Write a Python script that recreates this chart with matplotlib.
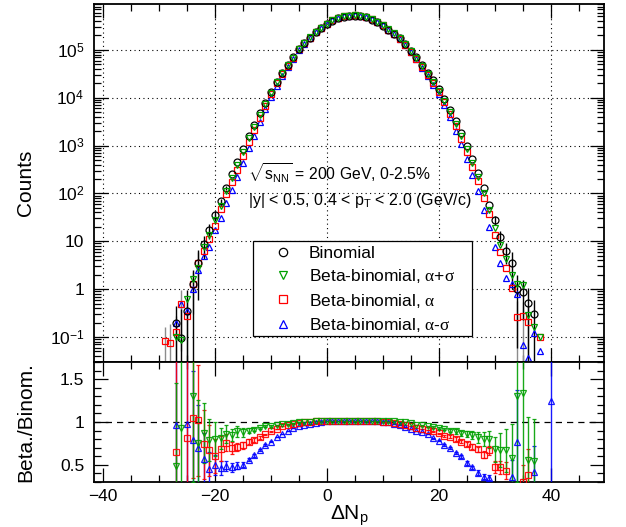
import numpy as np
import matplotlib
matplotlib.use('Agg')
import matplotlib.pyplot as plt
from matplotlib.ticker import MultipleLocator, FixedLocator, FuncFormatter, LogLocator, NullFormatter
from matplotlib.lines import Line2D
from matplotlib.patches import Rectangle

nan = np.nan

# Delta N_p values (-29 ... 40)
dnp = list(range(-29, 41))

# ---- top panel: counts ----
binomial = [nan, nan, 0.20, 0.093, 0.35, 1.25, 3.6, 8.7, 17, 35,
            68, 128, 250, 445, 845, 1570, 2630, 4700, 7900, 13500,
            21800, 33600, 48500, 70000, 103000, 138000, 181000, 235000, 290000, 345000,
            408000, 460000, 497000, 515000, 522000, 515000, 480000, 430000, 378000, 323000,
            266000, 219000, 173000, 133000, 97000, 70000, 48000, 33500, 23000, 15200,
            9500, 5600, 3200, 1800, 1000, 512, 272, 128, 57, 28,
            12.5, 6.4, 3.5, 1.0, 0.89, 0.52, 0.30, nan, nan, nan]
binomial_err = [0, 0, 0.25, 0.3, 0.6, 1.3, 3.0, 4.5, 6, 8,
                10, 12, 0, 0, 0, 0, 0, 0, 0, 0,
                0, 0, 0, 0, 0, 0, 0, 0, 0, 0,
                0, 0, 0, 0, 0, 0, 0, 0, 0, 0,
                0, 0, 0, 0, 0, 0, 0, 0, 0, 0,
                0, 0, 0, 0, 0, 0, 0, 0, 0, 6,
                4, 3, 2.5, 0.94, 0.66, 0.55, 0.3, 0, 0, 0]
beta_ps = [nan, nan, 0.10, 0.087, 0.63, 1.65, 2.8, 7.6, 13.4, 28,
           55, 110, 212, 396, 744, 1413, 2393, 4371, 7505, 12825,
           20928, 32928, 47530, 69300, 103000, 138000, 182000, 237000, 293000, 349000,
           412000, 465000, 502000, 520000, 527000, 520000, 485000, 434000, 382000, 326000,
           268700, 221200, 173000, 133000, 96000, 67900, 46080, 31825, 21735, 14136,
           8740, 5040, 2848, 1566, 860, 435, 223, 102, 46, 19,
           8.4, 4.3, 2.0, 1.3, 1.2, 0.29, 0.16, 0.10, nan, nan]
beta_a = [0.083, 0.076, 0.13, 0.50, 0.27, 1.3, 3.6, 6.4, 11.4, 21,
          47, 97, 175, 316, 617, 1209, 2078, 3854, 6755, 12015,
          20056, 31920, 47045, 68600, 102000, 138000, 181000, 237000, 293000, 349000,
          412000, 465000, 502000, 520000, 527000, 520000, 485000, 434000, 382000, 326000,
          264700, 216800, 169500, 127700, 92150, 65100, 44160, 30490, 20470, 13220,
          7980, 4650, 2560, 1386, 740, 364, 185, 79, 38, 13.4,
          5.9, 2.75, 1.08, 0.26, 0.28, 0.21, nan, 0.10, nan, nan]
beta_a_err = [0.08, 0.11, 0.15, 0.45, 0.3, 1.0, 2.5, 0, 0, 0,
              0, 0, 0, 0, 0, 0, 0, 0, 0, 0,
              0, 0, 0, 0, 0, 0, 0, 0, 0, 0,
              0, 0, 0, 0, 0, 0, 0, 0, 0, 0,
              0, 0, 0, 0, 0, 0, 0, 0, 0, 0,
              0, 0, 0, 0, 0, 0, 0, 0, 0, 0,
              0, 0, 0, 0.3, 0.25, 0.25, 0, 0, 0, 0]
beta_ms = [nan, nan, 0.20, 0.50, 0.35, 1.0, 2.5, 5.0, 7.7, 17.5,
           31, 63, 118, 218, 423, 879, 1604, 3149, 5767, 10395,
           17876, 28896, 43650, 65100, 97850, 133900, 177400, 233000, 293000, 349000,
           412000, 465000, 502000, 520000, 527000, 520000, 485000, 434000, 382000, 326000,
           266000, 214600, 166100, 125000, 89240, 63000, 42240, 28810, 18630, 11860,
           6935, 3920, 2048, 1080, 520, 240, 112, 46, 20, 7.6,
           3.5, 1.74, 1.26, 0.79, 0.068, 0.036, 0.12, 0.051, nan, nan]

# ---- bottom panel: ratios Beta / Binomial ----
ratio_ps = [nan, nan, 0.49, 0.93, nan, 1.30, 0.76, 0.87, 0.79, 0.80,
            0.81, 0.86, 0.85, 0.89, 0.88, 0.90, 0.91, 0.93, 0.95, 0.95,
            0.96, 0.98, 0.98, 0.99, 1.00, 1.00, 1.005, 1.01, 1.01, 1.01,
            1.01, 1.01, 1.01, 1.01, 1.01, 1.01, 1.01, 1.01, 1.01, 1.01,
            1.01, 1.01, 1.00, 1.00, 0.99, 0.97, 0.96, 0.95, 0.945, 0.93,
            0.92, 0.90, 0.89, 0.87, 0.86, 0.85, 0.82, 0.80, 0.80, 0.68,
            0.67, 0.67, 0.58, 1.30, 1.34, 0.56, 0.54, nan, nan, nan]
ratio_ps_err = [0, 0, 0.97, 1.5, 0, 1.0, 0.5, 0.35, 0.25, 0.2,
                0.12, 0.1, 0.07, 0.06, 0.05, 0.03, 0.02, 0.015, 0.01, 0.01,
                0, 0, 0, 0, 0, 0, 0, 0, 0, 0,
                0, 0, 0, 0, 0, 0, 0, 0, 0, 0,
                0, 0, 0, 0, 0, 0, 0.005, 0.005, 0.01, 0.01,
                0.015, 0.02, 0.025, 0.03, 0.04, 0.05, 0.06, 0.08, 0.1, 0.15,
                0.2, 0.25, 0.4, 1.0, 1.0, 0.5, 0.5, 0, 0, 0]
ratio_a = [nan, nan, 0.645, nan, 0.81, 1.05, 1.02, 0.74, 0.67, 0.60,
           0.69, 0.76, 0.70, 0.71, 0.73, 0.77, 0.79, 0.82, 0.855, 0.89,
           0.92, 0.95, 0.97, 0.98, 0.99, 1.00, 1.00, 1.01, 1.01, 1.015,
           1.015, 1.015, 1.015, 1.015, 1.015, 1.015, 1.015, 1.01, 1.01, 1.005,
           1.00, 0.99, 0.98, 0.96, 0.95, 0.93, 0.92, 0.91, 0.89, 0.87,
           0.84, 0.83, 0.80, 0.77, 0.74, 0.71, 0.68, 0.62, 0.67, 0.48,
           0.47, 0.43, nan, nan, 0.30, 0.38, nan, nan, nan, nan]
ratio_a_err = [0, 0, 1.5, 0, 1.0, 0.7, 0.65, 0.4, 0.3, 0.2,
               0.15, 0.1, 0.07, 0.05, 0.04, 0.03, 0.02, 0.015, 0.01, 0.01,
               0, 0, 0, 0, 0, 0, 0, 0, 0, 0,
               0, 0, 0, 0, 0, 0, 0, 0, 0, 0,
               0, 0, 0, 0, 0, 0, 0, 0, 0.005, 0.005,
               0.01, 0.015, 0.02, 0.02, 0.025, 0.03, 0.03, 0.04, 0.05, 0.07,
               0.08, 0.1, 0, 0, 0.2, 0.3, 0, 0, 0, 0]
ratio_ms = [nan, nan, 0.96, nan, 0.98, 0.79, 0.70, 0.57, 0.45, 0.50,
            0.46, 0.49, 0.47, 0.49, 0.50, 0.56, 0.61, 0.67, 0.73, 0.77,
            0.82, 0.86, 0.90, 0.93, 0.95, 0.97, 0.98, 0.99, 1.00, 1.01,
            1.015, 1.015, 1.015, 1.015, 1.015, 1.015, 1.015, 1.01, 1.01, 1.005,
            1.00, 0.98, 0.96, 0.94, 0.92, 0.90, 0.88, 0.86, 0.81, 0.78,
            0.73, 0.70, 0.64, 0.60, 0.52, 0.47, 0.41, 0.36, 0.35, nan,
            nan, nan, 0.36, 0.77, nan, nan, 0.42, nan, nan, 1.24]
ratio_ms_err = [0, 0, 1.5, 0, 1.5, 0.8, 0.5, 0.3, 0.2, 0.12,
                0.08, 0.06, 0.05, 0.04, 0.03, 0.02, 0.015, 0.01, 0.01, 0.005,
                0, 0, 0, 0, 0, 0, 0, 0, 0, 0,
                0, 0, 0, 0, 0, 0, 0, 0, 0, 0,
                0, 0, 0, 0, 0, 0, 0, 0, 0.005, 0.005,
                0.01, 0.01, 0.015, 0.015, 0.02, 0.02, 0.025, 0.03, 0.03, 0,
                0, 0, 0.2, 0.6, 0, 0, 0.3, 0, 0, 2.0]

labels = ['Binomial', r'Beta-binomial, $\alpha$+$\sigma$',
          r'Beta-binomial, $\alpha$', r'Beta-binomial, $\alpha$-$\sigma$']

plt.rcParams.update({
    'font.family': ['Liberation Sans', 'DejaVu Sans'],
    'mathtext.fontset': 'custom',
    'mathtext.rm': 'Liberation Sans',
    'mathtext.it': 'Liberation Serif',
    'mathtext.bf': 'Liberation Sans:bold',
})

C_BIN, C_PS, C_A, C_MS = 'black', '#00a000', '#ff0000', '#0000ff'
MS, MEW = 5, 0.9

W, H = 626, 527
fig = plt.figure(figsize=(W / 100, H / 100), dpi=100)
L, R = 94, 604
ax1 = fig.add_axes([L / W, 1 - 362 / H, (R - L) / W, (362 - 4) / H])
ax2 = fig.add_axes([L / W, 1 - 482 / H, (R - L) / W, 120 / H])

x = np.array(dnp, dtype=float)

def top_err(ax, y, e, color):
    y = np.array(y, dtype=float)
    e = np.array(e, dtype=float)
    m = (e > 0) & np.isfinite(y)
    lo = np.minimum(e[m], y[m] * 0.9999)
    ax.errorbar(x[m], y[m], yerr=[lo, e[m]], fmt='none', ecolor=color, elinewidth=1.0, capsize=0, zorder=2)

top_err(ax1, beta_a, beta_a_err, '0.55')
top_err(ax1, binomial, binomial_err, 'black')

series = [(beta_ms, C_MS, '^'), (beta_a, C_A, 's'), (binomial, C_BIN, 'o'), (beta_ps, C_PS, 'v')]
for y, c, m in series:
    ax1.plot(x, y, ls='none', marker=m, mfc='none', mec=c, ms=MS, mew=MEW, zorder=3)

ax1.set_yscale('log')
ax1.set_ylim(0.030, 9.1e5)
ax1.set_xlim(-41.6, 49.5)
ax1.xaxis.set_major_locator(MultipleLocator(20))
ax1.xaxis.set_minor_locator(MultipleLocator(5))
ax1.xaxis.set_major_formatter(NullFormatter())
ax1.yaxis.set_major_locator(FixedLocator([0.1, 1, 10, 100, 1e3, 1e4, 1e5]))
ax1.yaxis.set_minor_locator(LogLocator(base=10, subs=np.arange(2, 10), numticks=30))
ax1.yaxis.set_minor_formatter(NullFormatter())
ylabs = {0.1: r'$10^{-1}$', 1: '1', 10: '10', 100: r'$10^{2}$', 1e3: r'$10^{3}$',
         1e4: r'$10^{4}$', 1e5: r'$10^{5}$'}
ax1.yaxis.set_major_formatter(FuncFormatter(lambda v, p: ylabs.get(round(v, 6), '')))
ax1.grid(True, which='major', ls=(0, (1, 3)), color='black', lw=0.8)
ax1.set_axisbelow(True)

# ratio panel
rseries = [(ratio_ms, ratio_ms_err, C_MS, '^'), (ratio_a, ratio_a_err, C_A, 's'),
           (ratio_ps, ratio_ps_err, C_PS, 'v')]
ax2.axhline(1.0, ls=(0, (5, 4)), color='black', lw=0.9, zorder=1)
for y, e, c, m in rseries:
    ax2.errorbar(x, y, yerr=e, fmt=m, mfc='none', mec=c, ms=MS, mew=MEW, ecolor=c,
                 elinewidth=1.0, capsize=1.5, capthick=0.8, alpha=0.9, zorder=3)
ax2.set_xlim(-41.6, 49.5)
ax2.set_ylim(0.3, 1.7)
ax2.xaxis.set_major_locator(MultipleLocator(20))
ax2.xaxis.set_minor_locator(MultipleLocator(5))
ax2.yaxis.set_major_locator(FixedLocator([0.5, 1.0, 1.5]))
ax2.yaxis.set_minor_locator(MultipleLocator(0.1))
ax2.yaxis.set_major_formatter(FuncFormatter(lambda v, p: {0.5: '0.5', 1.0: '1', 1.5: '1.5'}.get(round(v, 2), '')))

for ax in (ax1, ax2):
    ax.tick_params(which='both', direction='in', top=True, right=True, labelsize=12.5, width=0.9)
    ax.tick_params(which='major', length=10)
    ax.tick_params(which='minor', length=5)
    ax.tick_params(axis='y', pad=7)
    ax.tick_params(axis='x', pad=5)
    for s in ax.spines.values():
        s.set_linewidth(1.3)

ax1.set_ylabel('Counts', fontsize=15)
ax1.yaxis.set_label_coords(-0.116, 0.5)
ax2.set_ylabel('Beta./Binom.', fontsize=15)
ax2.yaxis.set_label_coords(-0.116, 0.5)
ax2.set_xlabel(r'$\Delta\mathrm{N}_{\mathrm{p}}$', fontsize=15)
ax2.xaxis.set_label_coords(0.5, -0.18)

fig.text(248 / W, 1 - 173 / H, r'$\sqrt{\mathrm{s}_{\mathrm{NN}}}$ = 200 GeV, 0-2.5%', fontsize=11.3, va='center')
fig.text(248 / W, 1 - 200 / H, r'|y| < 0.5, 0.4 < $\mathrm{p}_{\mathrm{T}}$ < 2.0 (GeV/c)', fontsize=11.5, va='center')

# legend: frame drawn as a box, entries placed by matplotlib's legend
fig.patches.append(Rectangle((253 / W, 1 - 336 / H), (472 - 253) / W, (336 - 241) / H,
                             transform=fig.transFigure, facecolor='white', edgecolor='black',
                             lw=0.9, zorder=4))
handles = [Line2D([], [], ls='none', marker=m, mfc='none', mec=c, ms=6, mew=MEW)
           for m, c in [('o', C_BIN), ('v', C_PS), ('s', C_A), ('^', C_MS)]]
leg = fig.legend(handles, labels, loc='upper left', bbox_to_anchor=(253 / W, 1 - 241 / H),
                 bbox_transform=fig.transFigure, frameon=False, fontsize=12.5,
                 borderpad=0.26, labelspacing=0.37, handlelength=2.9, handletextpad=0.05,
                 borderaxespad=0)
leg.set_zorder(6)

fig.savefig('out.png', dpi=100)
